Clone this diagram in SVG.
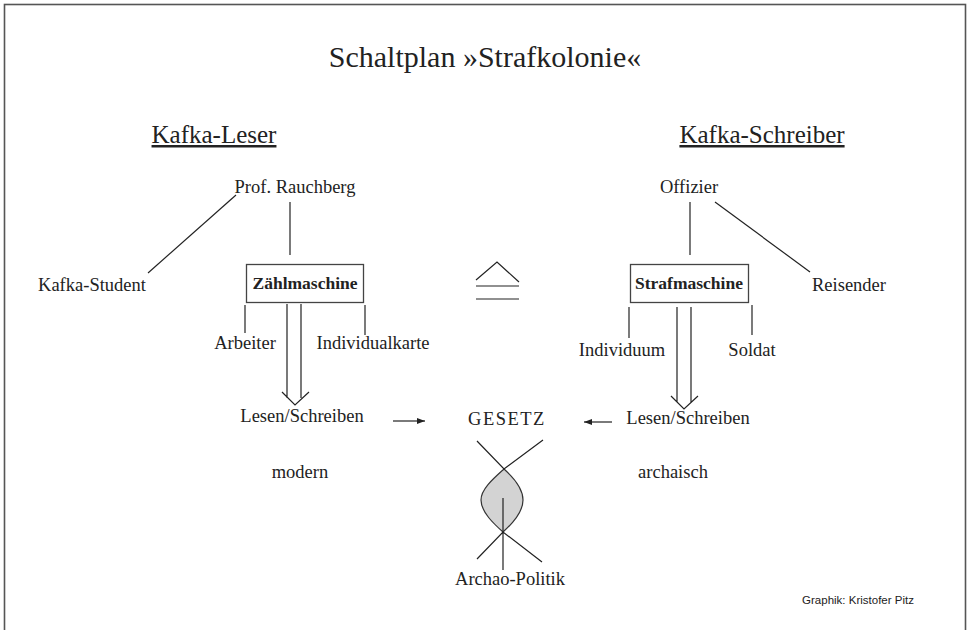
<svg xmlns="http://www.w3.org/2000/svg" width="970" height="630" viewBox="0 0 970 630">
<defs>
<style>
.t{font-family:"Liberation Serif","DejaVu Serif",serif;fill:#222;font-size:18.5px;text-anchor:middle}
.h{font-size:25px;text-decoration:underline}
.b{font-weight:bold;font-size:17.5px}
.ln{stroke:#222;stroke-width:1.2;fill:none}
.box{fill:#fff;stroke:#444;stroke-width:1.3}
</style>
<marker id="ah" viewBox="0 0 8 6" refX="8" refY="3" markerWidth="8" markerHeight="6" markerUnits="userSpaceOnUse" orient="auto">
<path d="M0,0 L8,3 L0,6 Z" fill="#222"/>
</marker>
</defs>
<rect width="970" height="630" fill="#fff"/>
<rect x="4.5" y="4.5" width="961" height="640" fill="none" stroke="#555" stroke-width="1.6"/>
<text class="t" x="485" y="67" style="font-size:30px">Schaltplan »Strafkolonie«</text>
<text class="t h" x="214" y="143">Kafka-Leser</text>
<text class="t h" x="762" y="143">Kafka-Schreiber</text>
<g id="connectors">
<line class="ln" x1="148" y1="273" x2="236" y2="195"/>
<line class="ln" x1="290" y1="202" x2="290" y2="255"/>
<line class="ln" x1="245" y1="305" x2="245" y2="333"/>
<line class="ln" x1="365" y1="305" x2="365" y2="335"/>
<path class="ln" d="M287,304 V398 M301,304 V398 M282,392 L295,405 L309,392" stroke="#555"/>
<line class="ln" x1="690" y1="202" x2="690" y2="255"/>
<line class="ln" x1="715" y1="202" x2="810" y2="272"/>
<line class="ln" x1="629" y1="307" x2="629" y2="338"/>
<line class="ln" x1="752" y1="305" x2="752" y2="335"/>
<path class="ln" d="M677,307 V402 M691,307 V402 M671,396 L684,409 L698,396" stroke="#555"/>
<line class="ln" x1="393" y1="421" x2="425" y2="421" marker-end="url(#ah)"/>
<line class="ln" x1="612" y1="422" x2="584" y2="422" marker-end="url(#ah)"/>
</g>
<g id="equiv">
<path class="ln" d="M476,280 L497,262 L519,282 M476,286 H519 M476,299 H519"/>
</g>
<g id="prof"><text class="t" x="295" y="193">Prof. Rauchberg</text></g>
<g id="student"><text class="t" x="92" y="291">Kafka-Student</text></g>
<g id="zaehl"><rect class="box" x="246.5" y="264.5" width="117" height="38"/><text class="t b" x="305" y="289">Zählmaschine</text></g>
<g id="arbeiter"><text class="t" x="245" y="349">Arbeiter</text></g>
<g id="karte"><text class="t" x="373" y="349">Individualkarte</text></g>
<g id="lesen1"><text class="t" x="302" y="422">Lesen/Schreiben</text></g>
<g id="modern"><text class="t" x="300" y="478">modern</text></g>
<g id="gesetz"><text class="t" x="507" y="425" style="letter-spacing:1.5px">GESETZ</text></g>
<g id="lesen2"><text class="t" x="688" y="424">Lesen/Schreiben</text></g>
<g id="archaisch"><text class="t" x="673" y="478">archaisch</text></g>
<g id="offizier"><text class="t" x="689" y="193">Offizier</text></g>
<g id="reisender"><text class="t" x="849" y="291">Reisender</text></g>
<g id="straf"><rect class="box" x="630.5" y="264.5" width="118" height="38"/><text class="t b" x="689" y="289">Strafmaschine</text></g>
<g id="individuum"><text class="t" x="622" y="356">Individuum</text></g>
<g id="soldat"><text class="t" x="752" y="356">Soldat</text></g>
<g id="figure">
<path d="M504,469 C494,478 481,489 481,500 C481,512 494,524 503,532 C512,524 523,512 523,500 C523,488 514,478 504,469 Z" fill="#d3d3d3" stroke="#333" stroke-width="1.2"/>
<path class="ln" d="M477,441 L504,469 L543,440 M477,559 L503,532 L542,562 M503,498 V570"/>
</g>
<g id="archao"><text class="t" x="510" y="585">Archao-Politik</text></g>
<text x="858" y="604" style="font-family:'Liberation Sans',Arial,sans-serif;font-size:11.5px;fill:#222;text-anchor:middle">Graphik: Kristofer Pitz</text>
</svg>
